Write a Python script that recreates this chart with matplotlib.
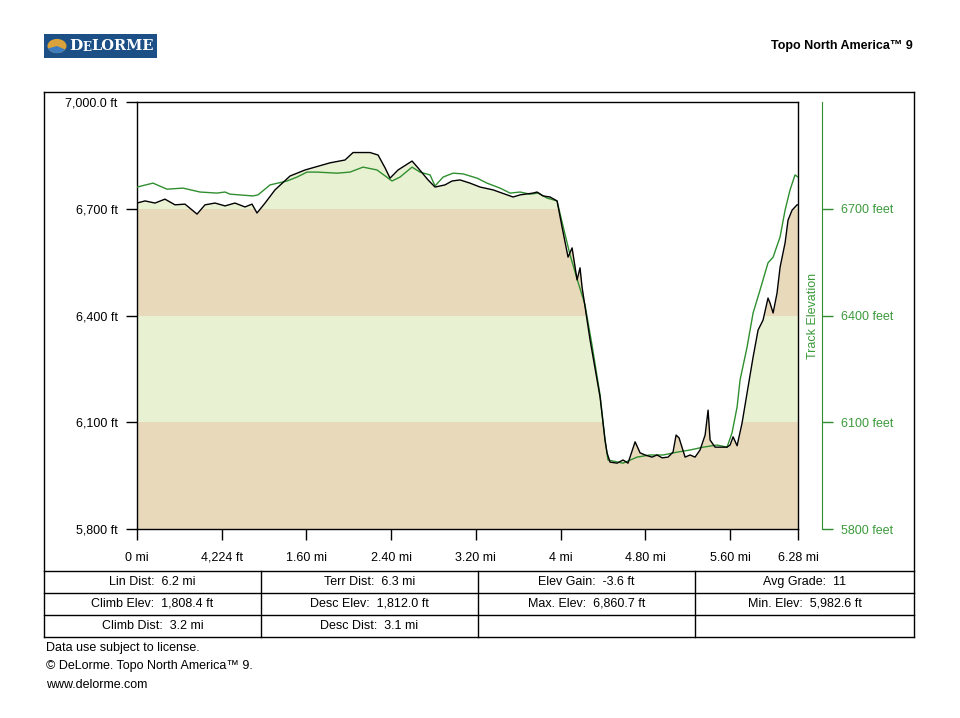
import matplotlib
matplotlib.use("Agg")
import matplotlib.pyplot as plt
from matplotlib.lines import Line2D
from matplotlib.patches import Rectangle, Circle, Wedge

plt.rcParams["font.family"] = ["Liberation Sans", "DejaVu Sans"]

# ── Data (miles, feet) ───────────────────────────────────────
terrain_mi = [0.00, 0.076, 0.170, 0.264, 0.359, 0.453, 0.567, 0.642, 0.737, 0.831,
              0.925, 1.020, 1.086, 1.133, 1.209, 1.303, 1.445, 1.587, 1.681, 1.822,
              1.964, 2.040, 2.200, 2.276, 2.342, 2.389, 2.465, 2.597, 2.653, 2.748,
              2.814, 2.908, 2.975, 3.050, 3.144, 3.239, 3.362, 3.494, 3.551, 3.617,
              3.739, 3.777, 3.834, 3.900, 3.966, 4.013, 4.070, 4.108, 4.155, 4.183,
              4.202, 4.278, 4.372, 4.419, 4.438, 4.466, 4.533, 4.589, 4.636, 4.703,
              4.750, 4.797, 4.863, 4.910, 4.958, 5.014, 5.061, 5.090, 5.118, 5.175,
              5.222, 5.269, 5.316, 5.364, 5.392, 5.411, 5.458, 5.505, 5.571, 5.600,
              5.628, 5.666, 5.713, 5.760, 5.817, 5.864, 5.911, 5.958, 5.977, 6.006,
              6.043, 6.072, 6.119, 6.147, 6.185, 6.232, 6.241]
terrain_ft = [6716, 6722, 6716, 6727, 6711, 6713, 6685, 6711, 6716, 6708,
              6716, 6705, 6713, 6688, 6716, 6753, 6792, 6809, 6817, 6829,
              6837, 6858, 6858, 6851, 6815, 6786, 6809, 6834, 6815, 6781,
              6761, 6767, 6778, 6781, 6772, 6761, 6753, 6739, 6733, 6739,
              6744, 6747, 6736, 6733, 6722, 6649, 6564, 6590, 6500, 6534,
              6480, 6331, 6171, 6050, 6014, 5988, 5985, 5994, 5985, 6045,
              6014, 6008, 6002, 6008, 6000, 6002, 6016, 6064, 6056, 6002,
              6008, 6002, 6022, 6064, 6134, 6050, 6030, 6030, 6030, 6036,
              6059, 6034, 6098, 6182, 6283, 6359, 6387, 6449, 6435, 6407,
              6463, 6536, 6604, 6668, 6696, 6711, 6711]

track_mi = [0.00, 0.151, 0.283, 0.434, 0.595, 0.755, 0.831, 0.878, 1.095, 1.143,
            1.256, 1.416, 1.511, 1.605, 1.700, 1.889, 2.011, 2.134, 2.266, 2.408,
            2.483, 2.597, 2.672, 2.767, 2.814, 2.890, 2.984, 3.078, 3.211, 3.305,
            3.428, 3.522, 3.617, 3.711, 3.787, 3.872, 3.966, 4.013, 4.089, 4.164,
            4.230, 4.296, 4.372, 4.419, 4.447, 4.589, 4.721, 4.844, 4.967, 5.099,
            5.222, 5.345, 5.477, 5.571, 5.618, 5.666, 5.694, 5.760, 5.817, 5.883,
            5.958, 6.006, 6.072, 6.119, 6.166, 6.213, 6.241]
track_ft = [6761, 6772, 6755, 6758, 6747, 6744, 6747, 6741, 6736, 6739,
            6767, 6778, 6789, 6803, 6803, 6800, 6803, 6817, 6809, 6778,
            6789, 6817, 6803, 6795, 6764, 6789, 6800, 6798, 6786, 6772,
            6758, 6744, 6747, 6741, 6744, 6730, 6722, 6663, 6570, 6494,
            6430, 6317, 6177, 6050, 5994, 5985, 6002, 6008, 6008, 6016,
            6022, 6030, 6036, 6030, 6070, 6143, 6219, 6311, 6407, 6472,
            6548, 6564, 6621, 6696, 6753, 6795, 6789]

band_edges = [5800, 6100, 6400, 6700, 7000]
left_ticks = [5800, 6100, 6400, 6700, 7000]
left_labels = ["5,800 ft", "6,100 ft", "6,400 ft", "6,700 ft", "7,000.0 ft"]
right_ticks = [5800, 6100, 6400, 6700]
right_labels = ["5800 feet", "6100 feet", "6400 feet", "6700 feet"]
x_ticks = [0, 0.8, 1.6, 2.4, 3.2, 4.0, 4.8, 5.6, 6.241]
x_labels = ["0 mi", "4,224 ft", "1.60 mi", "2.40 mi", "3.20 mi", "4 mi",
            "4.80 mi", "5.60 mi", "6.28 mi"]

table_rows = [
    ["Lin Dist:  6.2 mi", "Terr Dist:  6.3 mi", "Elev Gain:  -3.6 ft", "Avg Grade:  11"],
    ["Climb Elev:  1,808.4 ft", "Desc Elev:  1,812.0 ft", "Max. Elev:  6,860.7 ft",
     "Min. Elev:  5,982.6 ft"],
    ["Climb Dist:  3.2 mi", "Desc Dist:  3.1 mi", "", ""],
]
footer_lines = ["Data use subject to license.",
                "\u00a9 DeLorme. Topo North America\u2122 9.",
                "www.delorme.com"]

TAN = "#E8D9BB"
LIGHT_GREEN = "#E9F1D3"
TRACK_GREEN = "#2F8F2F"
LABEL_GREEN = "#3C9A3C"

W, H = 960, 718


def fx(px):
    return px / W


def fy(py):
    return 1 - py / H


fig = plt.figure(figsize=(9.6, 7.18), dpi=100)

ax = fig.add_axes([fx(137), fy(529), (798 - 137) / W, (529 - 102) / H])
ax.set_xlim(0, 6.241)
ax.set_ylim(5800, 7000)

# alternating bands, then white above the terrain profile
for i in range(len(band_edges) - 1):
    ax.axhspan(band_edges[i], band_edges[i + 1],
               color=TAN if i % 2 == 0 else LIGHT_GREEN, lw=0, zorder=0)
ax.fill_between(terrain_mi, terrain_ft, 7000, color="white", lw=0, zorder=1)
ax.plot(track_mi, track_ft, color=TRACK_GREEN, lw=1, zorder=3)
ax.plot(terrain_mi, terrain_ft, color="black", lw=1, zorder=4)

ax.set_yticks(left_ticks)
ax.set_yticklabels(left_labels)
ax.set_xticks(x_ticks)
ax.set_xticklabels(x_labels)
ax.tick_params(axis="y", direction="out", length=8, width=1, pad=6, labelsize=9)
ax.tick_params(axis="x", direction="out", length=8, width=1, pad=15, labelsize=9)
for lbl in ax.get_xticklabels():
    lbl.set_va("baseline")
for s in ax.spines.values():
    s.set_linewidth(1)

# right-hand track elevation axis
ax2 = ax.twinx()
ax2.set_ylim(5800, 7000)
for name in ["left", "top", "bottom"]:
    ax2.spines[name].set_visible(False)
ax2.spines["right"].set_position(("outward", 24 * 72 / 100))
ax2.spines["right"].set_color(TRACK_GREEN)
ax2.set_yticks(right_ticks)
ax2.set_yticklabels(right_labels)
ax2.tick_params(axis="y", colors=TRACK_GREEN, labelcolor=LABEL_GREEN,
                length=8, width=1, pad=6, labelsize=9)
ax2.set_ylabel("Track Elevation", color=LABEL_GREEN, fontsize=9)
ax2.yaxis.set_label_position("right")
ax2.yaxis.set_label_coords((807 - 137) / (798 - 137), 0.5)
ax2.yaxis.label.set_rotation(90)

# outer frame and stats table
def hline(py, x0=44, x1=914):
    fig.add_artist(Line2D([fx(x0), fx(x1)], [fy(py), fy(py)], color="black", lw=1))


def vline(px, y0, y1):
    fig.add_artist(Line2D([fx(px), fx(px)], [fy(y0), fy(y1)], color="black", lw=1))


for py in [92, 571, 593, 615, 637]:
    hline(py)
vline(44, 92, 637)
vline(914, 92, 637)
col_edges = [44, 261, 478, 695, 914]
for px in col_edges[1:-1]:
    vline(px, 571, 637)
row_tops = [571, 593, 615]
for r, row in enumerate(table_rows):
    for c, txt in enumerate(row):
        if txt:
            fig.text(fx((col_edges[c] + col_edges[c + 1]) / 2), fy(row_tops[r] + 11),
                     txt, ha="center", va="center", fontsize=9)

for i, line in enumerate(footer_lines):
    fig.text(fx(46), fy(648 + i * 18.5), line, ha="left", va="center", fontsize=9)

fig.text(fx(913), fy(46), "Topo North America\u2122 9", ha="right", va="center",
         fontsize=9, fontweight="bold")

# DeLorme logo
fig.add_artist(Rectangle((fx(44), fy(58)), fx(157) - fx(44), fy(34) - fy(58),
                         transform=fig.transFigure, color="#1B4F86", lw=0))
fig.add_artist(Circle((fx(57), fy(46)), 9.5 / W, transform=fig.transFigure,
                      color="#D9A23A", lw=0))
fig.add_artist(Wedge((fx(57), fy(46)), 9.5 / W, 200, 330, transform=fig.transFigure,
                     color="#3D7DBF", lw=0))
fig.text(fx(69), fy(46.5), "D", color="white", fontsize=11, fontweight="bold",
         ha="left", va="center", family="DejaVu Serif")
fig.text(fx(82.5), fy(47.5), "E", color="white", fontsize=8.5, fontweight="bold",
         ha="left", va="center", family="DejaVu Serif")
fig.text(fx(91), fy(46.5), "LORME", color="white", fontsize=10.5, fontweight="bold",
         ha="left", va="center", family="DejaVu Serif")

plt.savefig("out.png", dpi=100, facecolor="white")
plt.close()
